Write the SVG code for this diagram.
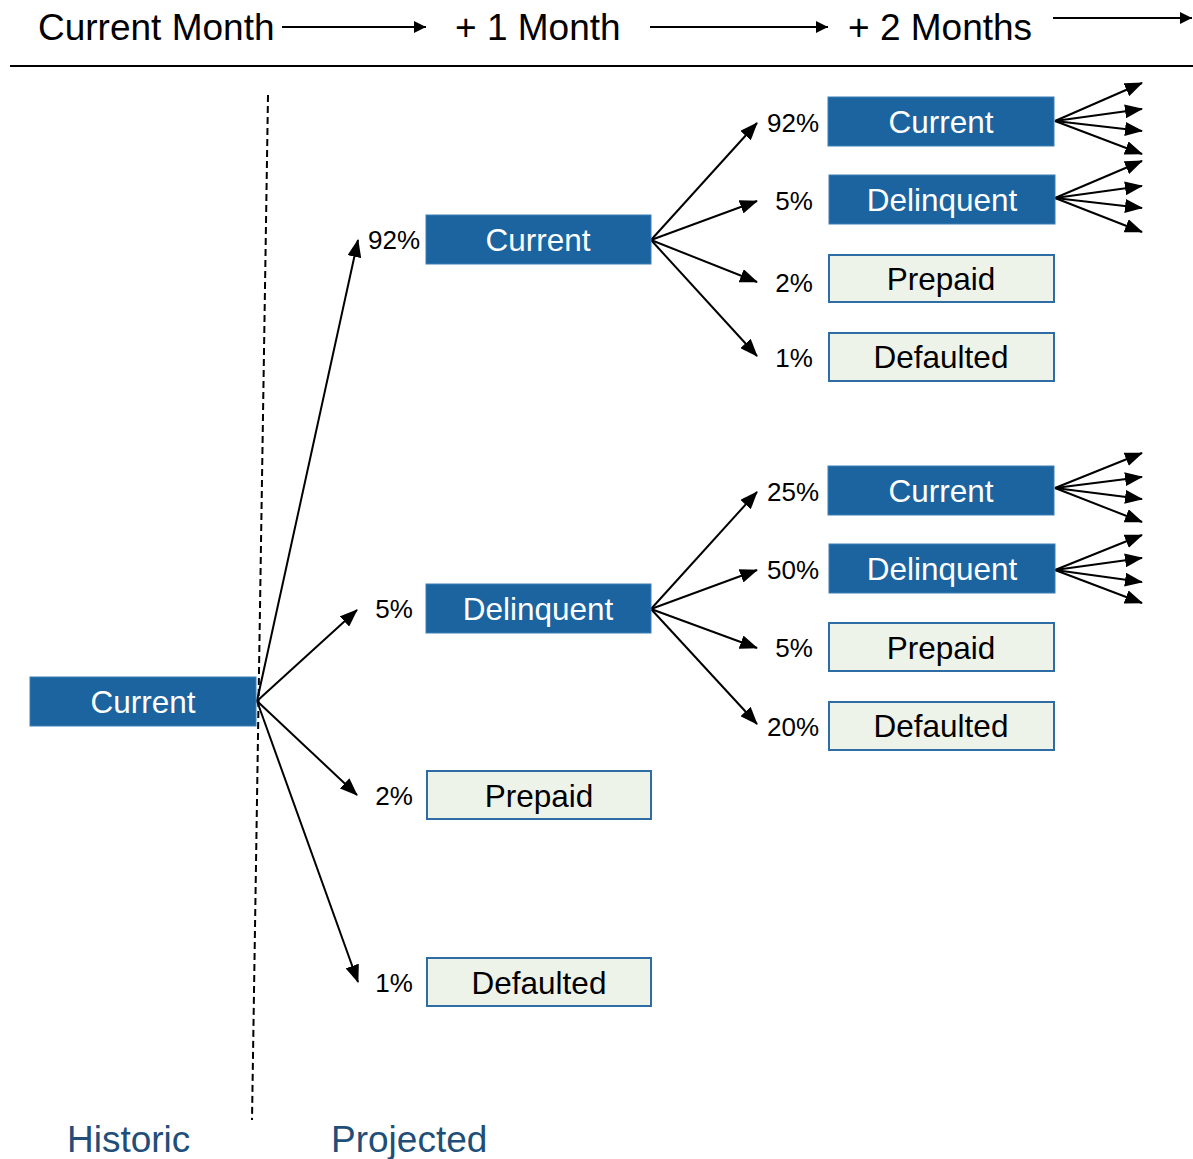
<svg xmlns="http://www.w3.org/2000/svg" width="1193" height="1159" viewBox="0 0 1193 1159">
<style>
.t{font-family:"Liberation Sans",Arial,sans-serif}
.hdr{font-size:37px;fill:#000}
.sec{font-size:37px;fill:#1f4e79}
.fill rect{fill:#1b64a0;stroke:#3d7fb5;stroke-width:1}
.fill text{fill:#fff;font-size:31.5px;text-anchor:middle}
.light rect{fill:#eef3ea;stroke:#2e6da4;stroke-width:2}
.light text{fill:#000;font-size:31.5px;text-anchor:middle}
.pct{font-size:26px;fill:#000;text-anchor:middle}
.c line{stroke:#000;stroke-width:2;marker-end:url(#ah)}
</style>
<defs>
<marker id="ah" markerUnits="userSpaceOnUse" markerWidth="18" markerHeight="14" refX="17" refY="7" orient="auto">
<path d="M0,0 L18,7 L0,14 Z" fill="#000"/>
</marker>
<marker id="ahs" markerUnits="userSpaceOnUse" markerWidth="12" markerHeight="12" refX="12" refY="6" orient="auto">
<path d="M0,0 L12,6 L0,12 Z" fill="#000"/>
</marker>
</defs>
<rect width="1193" height="1159" fill="#fff"/>
<g id="header">
<text class="t hdr" x="38" y="40">Current Month</text>
<text class="t hdr" x="455" y="40">+ 1 Month</text>
<text class="t hdr" x="848" y="40">+ 2 Months</text>
<line x1="282" y1="27" x2="426" y2="27" stroke="#000" stroke-width="2" marker-end="url(#ahs)"/>
<line x1="650" y1="27" x2="828" y2="27" stroke="#000" stroke-width="2" marker-end="url(#ahs)"/>
<line x1="1053" y1="18" x2="1192" y2="18" stroke="#000" stroke-width="2" marker-end="url(#ahs)"/>
<line x1="10" y1="66" x2="1193" y2="66" stroke="#000" stroke-width="2"/>
</g>
<line id="divider" x1="268" y1="95" x2="252" y2="1120" stroke="#000" stroke-width="2" stroke-dasharray="7,4"/>
<g id="connectors" class="c">
<line x1="257" y1="701" x2="358" y2="240"/>
<line x1="257" y1="701" x2="357" y2="610"/>
<line x1="257" y1="701" x2="357" y2="795"/>
<line x1="257" y1="701" x2="358" y2="982"/>
<line x1="651" y1="240" x2="757" y2="123"/>
<line x1="651" y1="240" x2="757" y2="201"/>
<line x1="651" y1="240" x2="757" y2="282"/>
<line x1="651" y1="240" x2="757" y2="356"/>
<line x1="651" y1="609" x2="757" y2="492"/>
<line x1="651" y1="609" x2="757" y2="570"/>
<line x1="651" y1="609" x2="757" y2="648"/>
<line x1="651" y1="609" x2="757" y2="724"/>
<line x1="1055" y1="121" x2="1142" y2="83"/>
<line x1="1055" y1="121" x2="1142" y2="109"/>
<line x1="1055" y1="121" x2="1142" y2="131"/>
<line x1="1055" y1="121" x2="1142" y2="154"/>
<line x1="1055" y1="198" x2="1142" y2="161"/>
<line x1="1055" y1="198" x2="1142" y2="186"/>
<line x1="1055" y1="198" x2="1142" y2="208"/>
<line x1="1055" y1="198" x2="1142" y2="232"/>
<line x1="1055" y1="488" x2="1142" y2="453"/>
<line x1="1055" y1="488" x2="1142" y2="477"/>
<line x1="1055" y1="488" x2="1142" y2="499"/>
<line x1="1055" y1="488" x2="1142" y2="522"/>
<line x1="1055" y1="570" x2="1142" y2="535"/>
<line x1="1055" y1="570" x2="1142" y2="558"/>
<line x1="1055" y1="570" x2="1142" y2="582"/>
<line x1="1055" y1="570" x2="1142" y2="603"/>
</g>
<g id="labels" class="t">
<text class="pct" x="394" y="249">92%</text>
<text class="pct" x="394" y="618">5%</text>
<text class="pct" x="394" y="805">2%</text>
<text class="pct" x="394" y="992">1%</text>
<text class="pct" x="793" y="132">92%</text>
<text class="pct" x="794" y="210">5%</text>
<text class="pct" x="794" y="292">2%</text>
<text class="pct" x="794" y="367">1%</text>
<text class="pct" x="793" y="501">25%</text>
<text class="pct" x="793" y="579">50%</text>
<text class="pct" x="794" y="657">5%</text>
<text class="pct" x="793" y="736">20%</text>
</g>
<g id="root" class="fill t"><rect x="30" y="677" width="226" height="49"/><text x="143" y="713">Current</text></g>
<g id="m1-current" class="fill t"><rect x="426" y="215" width="225" height="49"/><text x="538" y="251">Current</text></g>
<g id="m1-delinquent" class="fill t"><rect x="426" y="584" width="225" height="49"/><text x="538" y="620">Delinquent</text></g>
<g id="m1-prepaid" class="light t"><rect x="427" y="771" width="224" height="48"/><text x="539" y="807">Prepaid</text></g>
<g id="m1-defaulted" class="light t"><rect x="427" y="958" width="224" height="48"/><text x="539" y="994">Defaulted</text></g>
<g id="m2a-current" class="fill t"><rect x="828" y="97" width="226" height="49"/><text x="941" y="133">Current</text></g>
<g id="m2a-delinquent" class="fill t"><rect x="829" y="175" width="226" height="49"/><text x="942" y="211">Delinquent</text></g>
<g id="m2a-prepaid" class="light t"><rect x="829" y="255" width="225" height="47"/><text x="941" y="290">Prepaid</text></g>
<g id="m2a-defaulted" class="light t"><rect x="829" y="333" width="225" height="48"/><text x="941" y="368">Defaulted</text></g>
<g id="m2b-current" class="fill t"><rect x="828" y="466" width="226" height="49"/><text x="941" y="502">Current</text></g>
<g id="m2b-delinquent" class="fill t"><rect x="829" y="544" width="226" height="49"/><text x="942" y="580">Delinquent</text></g>
<g id="m2b-prepaid" class="light t"><rect x="829" y="623" width="225" height="48"/><text x="941" y="659">Prepaid</text></g>
<g id="m2b-defaulted" class="light t"><rect x="829" y="702" width="225" height="48"/><text x="941" y="737">Defaulted</text></g>
<g id="footer">
<text class="t sec" x="67" y="1152">Historic</text>
<text class="t sec" x="331" y="1152">Projected</text>
</g>
</svg>
